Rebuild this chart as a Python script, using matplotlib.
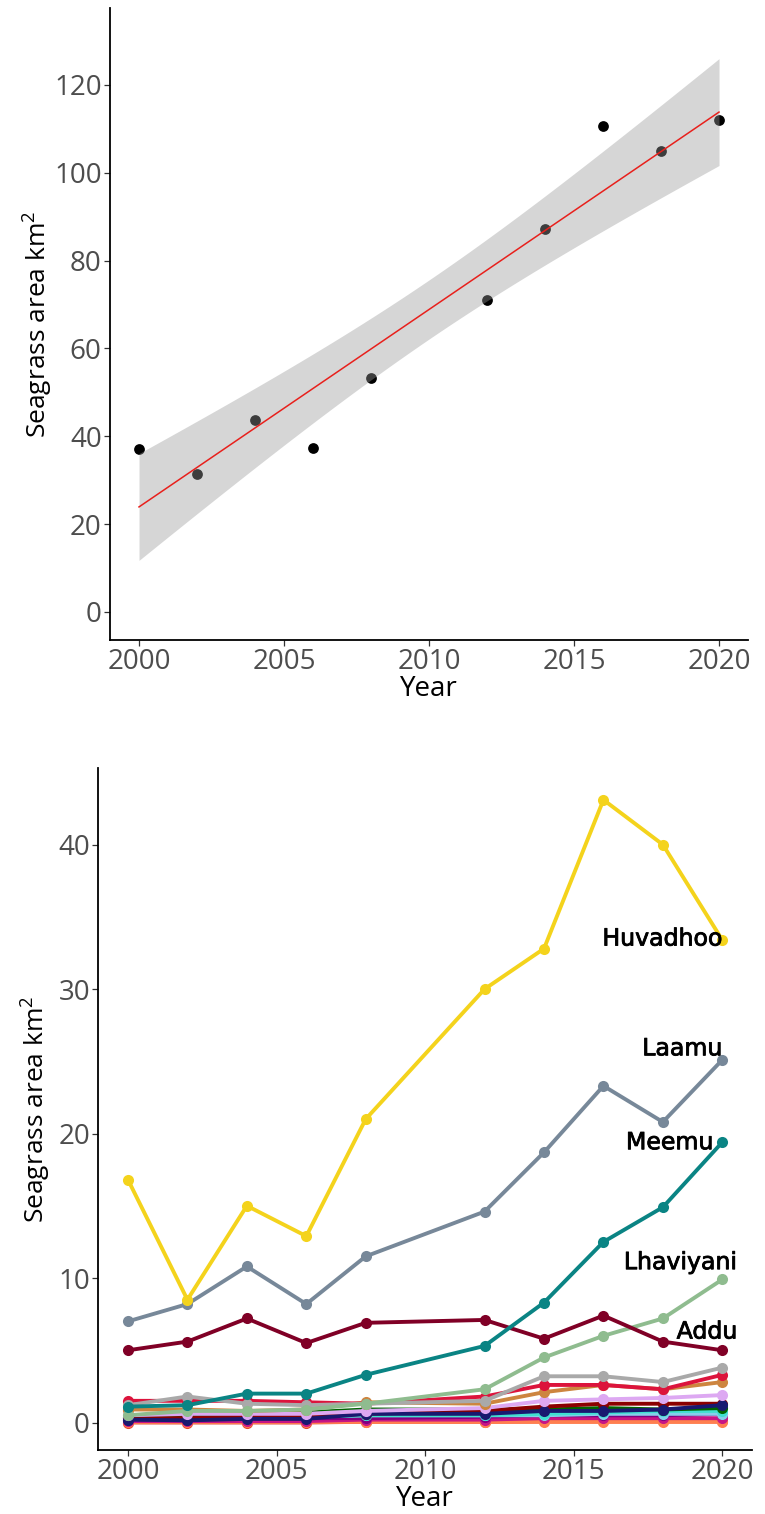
import numpy as np
import matplotlib
matplotlib.use("Agg")
import matplotlib.pyplot as plt
import matplotlib.patheffects as pe

plt.rcParams['font.family'] = ['Open Sans', 'DejaVu Sans']
plt.rcParams['mathtext.fontset'] = 'custom'
plt.rcParams['mathtext.rm'] = 'Open Sans'
plt.rcParams['mathtext.it'] = 'Open Sans'

# data
years = [2000, 2002, 2004, 2006, 2008, 2012, 2014, 2016, 2018, 2020]
total_area = [37.1, 31.3, 43.6, 37.2, 53.2, 71.1, 87.2, 110.7, 105.0, 112.1]

huvadhoo = [16.8, 8.5, 15.0, 12.9, 21.0, 30.0, 32.8, 43.1, 40.0, 33.4]
laamu = [7.0, 8.2, 10.8, 8.2, 11.5, 14.6, 18.7, 23.3, 20.8, 25.1]
meemu = [1.1, 1.2, 2.0, 2.0, 3.3, 5.3, 8.3, 12.5, 14.9, 19.4]
lhaviyani = [0.5, 0.8, 0.8, 0.9, 1.3, 2.3, 4.5, 6.0, 7.2, 9.9]
addu = [5.0, 5.6, 7.2, 5.5, 6.9, 7.1, 5.8, 7.4, 5.6, 5.0]
thaa = [1.2, 1.8, 1.3, 1.2, 1.3, 1.5, 3.2, 3.2, 2.8, 3.8]
dhaalu = [1.5, 1.5, 1.5, 1.4, 1.3, 1.8, 2.6, 2.6, 2.3, 3.3]
faafu = [0.9, 0.9, 0.8, 0.9, 1.4, 1.3, 2.1, 2.6, 2.3, 2.8]
vaavu = [0.5, 0.6, 0.6, 0.6, 0.8, 1.0, 1.5, 1.6, 1.7, 1.9]
raa = [0.3, 0.3, 0.4, 0.4, 0.6, 0.8, 1.1, 1.3, 1.3, 1.3]
baa = [0.2, 0.15, 0.25, 0.25, 0.6, 0.6, 0.8, 0.8, 0.9, 1.2]
noonu = [0.4, 0.5, 0.6, 0.7, 0.9, 0.9, 0.9, 1.0, 0.9, 1.0]
kaafu = [0.3, 0.3, 0.3, 0.4, 0.5, 0.5, 0.6, 0.7, 0.8, 0.8]
shaviyani = [0.4, 0.4, 0.4, 0.4, 0.5, 0.5, 0.5, 0.6, 0.6, 0.6]
haa_alifu = [0.2, 0.2, 0.3, 0.3, 0.3, 0.4, 0.5, 0.5, 0.5, 0.6]
haa_dhaalu = [0.1, 0.1, 0.1, 0.1, 0.2, 0.2, 0.3, 0.3, 0.3, 0.3]
gaafu_alifu = [0.0, 0.0, 0.0, 0.0, 0.05, 0.05, 0.1, 0.1, 0.1, 0.1]
gnaviyani = [0.02, 0.02, 0.02, 0.02, 0.02, 0.02, 0.02, 0.02, 0.02, 0.02]

atolls = [
    ("Gaafu Alifu", gaafu_alifu, "#E0402A"),
    ("Gnaviyani", gnaviyani, "#FF7F50"),
    ("Haa Dhaalu", haa_dhaalu, "#C71585"),
    ("Haa Alifu", haa_alifu, "#800080"),
    ("Shaviyani", shaviyani, "#87CEEB"),
    ("Kaafu", kaafu, "#40E0D0"),
    ("Noonu", noonu, "#006400"),
    ("Raa", raa, "#8B0000"),
    ("Baa", baa, "#191970"),
    ("Vaavu", vaavu, "#DDA8F2"),
    ("Faafu", faafu, "#CD853F"),
    ("Dhaalu", dhaalu, "#DC143C"),
    ("Thaa", thaa, "#A9A9A9"),
    ("Lhaviyani", lhaviyani, "#8FBC8F"),
    ("Addu", addu, "#800026"),
    ("Meemu", meemu, "#0A8484"),
    ("Laamu", laamu, "#778899"),
    ("Huvadhoo", huvadhoo, "#F4D31C"),
]

# label name, y position, x position
labels = [
    ("Huvadhoo", 33.5, 2020.0),
    ("Laamu", 25.9, 2020.0),
    ("Meemu", 19.4, 2019.7),
    ("Lhaviyani", 11.1, 2020.5),
    ("Addu", 6.3, 2020.5),
]

tick_col = "#4D4D4D"
fs = 20

fig = plt.figure(figsize=(7.65, 15.14), dpi=100)
ax1 = fig.add_axes([0.1438, 0.5773, 0.8340, 0.4174])
ax2 = fig.add_axes([0.1285, 0.0423, 0.8545, 0.4504])

# top: total area with linear fit and 95% CI
x = np.array(years, dtype=float)
y = np.array(total_area)
slope, icpt = np.polyfit(x, y, 1)
n = len(x)
resid = y - (slope * x + icpt)
s = np.sqrt(np.sum(resid ** 2) / (n - 2))
xm = x.mean()
sxx = np.sum((x - xm) ** 2)
xg = np.linspace(x.min(), x.max(), 100)
yg = slope * xg + icpt
half = 2.306 * s * np.sqrt(1 / n + (xg - xm) ** 2 / sxx)

ax1.scatter(x, y, s=60, color="black", zorder=2, linewidths=0)
ax1.fill_between(xg, yg - half, yg + half, color="#999999", alpha=0.4,
                 linewidth=0, zorder=3)
ax1.plot(xg, yg, color="#E8201C", lw=1.1, zorder=4)
ax1.set_xlim(1999, 2021)
ax1.set_ylim(-6.4, 137.5)
ax1.set_yticks([0, 20, 40, 60, 80, 100, 120])
ax1.set_xlabel("Year", fontsize=fs, labelpad=-1)
ax1.set_ylabel("Seagrass area km$^2$", fontsize=19, labelpad=-1)

# bottom: per-atoll lines
for name, vals, col in atolls:
    ax2.plot(years, vals, color=col, lw=2.8, marker="o", markersize=8,
             markeredgewidth=0, solid_capstyle="round")
for name, ly, lx in labels:
    ax2.text(lx, ly, name, ha="right", va="center", fontsize=17,
             family="DejaVu Sans", color="black",
             path_effects=[pe.withStroke(linewidth=0.6, foreground="black")])
ax2.set_xlim(1999, 2021)
ax2.set_ylim(-1.9, 45.3)
ax2.set_yticks([0, 10, 20, 30, 40])
ax2.set_xlabel("Year", fontsize=fs, labelpad=-1)
ax2.set_ylabel("Seagrass area km$^2$", fontsize=19, labelpad=4)

for ax in (ax1, ax2):
    ax.set_xticks([2000, 2005, 2010, 2015, 2020])
    for sp in ("top", "right"):
        ax.spines[sp].set_visible(False)
    for sp in ("left", "bottom"):
        ax.spines[sp].set_linewidth(1.3)
        ax.spines[sp].set_color("black")
    ax.tick_params(labelsize=fs, labelcolor=tick_col, color="#333333",
                   length=4.5, width=0.9, pad=1.5)

fig.savefig("out.png", dpi=100)
